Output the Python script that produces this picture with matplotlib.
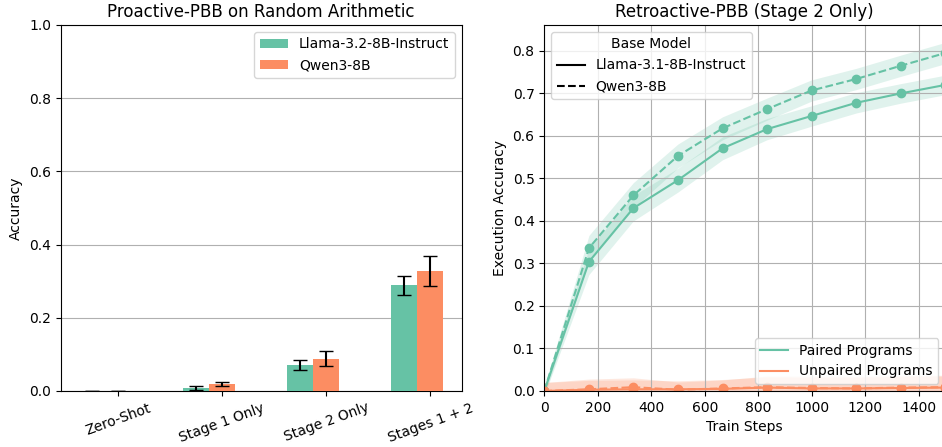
import numpy as np
import matplotlib.pyplot as plt

# left panel data
stages = ['Zero-Shot', 'Stage 1 Only', 'Stage 2 Only', 'Stages 1 + 2']
llama_acc = [0.001, 0.008, 0.070, 0.289]
llama_err = [0.0, 0.005, 0.014, 0.026]
qwen_acc = [0.001, 0.019, 0.088, 0.328]
qwen_err = [0.0, 0.006, 0.020, 0.042]

# right panel data
steps = [0, 167, 333, 500, 667, 833, 1000, 1167, 1333, 1500]
paired_llama = [0.0, 0.304, 0.430, 0.496, 0.571, 0.616, 0.647, 0.678, 0.700, 0.720]
paired_llama_sd = [0.01, 0.03, 0.03, 0.028, 0.027, 0.025, 0.024, 0.024, 0.023, 0.023]
paired_qwen = [0.0, 0.336, 0.460, 0.553, 0.618, 0.663, 0.707, 0.734, 0.765, 0.795]
paired_qwen_sd = [0.01, 0.03, 0.03, 0.028, 0.027, 0.026, 0.025, 0.025, 0.025, 0.025]
unpaired_llama = [0.0, 0.003, 0.004, 0.004, 0.005, 0.008, 0.006, 0.006, 0.007, 0.008]
unpaired_llama_sd = [0.02, 0.022, 0.022, 0.02, 0.022, 0.025, 0.026, 0.026, 0.027, 0.027]
unpaired_qwen = [0.0, 0.004, 0.009, 0.003, 0.006, 0.009, 0.007, 0.006, 0.008, 0.009]
unpaired_qwen_sd = [0.02, 0.024, 0.022, 0.018, 0.02, 0.026, 0.028, 0.028, 0.028, 0.028]

green = '#66c2a5'
orange = '#fc8d62'

fig = plt.figure(figsize=(9.42, 4.47), dpi=100)
ax1 = fig.add_axes([0.0644, 0.1253, 0.4257, 0.8188])
ax2 = fig.add_axes([0.5778, 0.1253, 0.4257, 0.8188])

# --- left: bars
x = np.arange(len(stages))
w = 0.25
ax1.bar(x - w, llama_acc, w, yerr=llama_err, capsize=5, color=green,
        label='Llama-3.2-8B-Instruct', zorder=3)
ax1.bar(x, qwen_acc, w, yerr=qwen_err, capsize=5, color=orange,
        label='Qwen3-8B', zorder=3)
ax1.set_xticks(x)
ax1.set_xticklabels(stages, rotation=20)
ax1.set_ylim(0, 1.0)
ax1.set_ylabel('Accuracy')
ax1.set_title('Proactive-PBB on Random Arithmetic')
ax1.grid(axis='y', zorder=0)
ax1.set_axisbelow(True)
ax1.legend(loc='upper right')

# --- right: curves
series = [
    (paired_llama, paired_llama_sd, green, '-'),
    (paired_qwen, paired_qwen_sd, green, '--'),
    (unpaired_llama, unpaired_llama_sd, orange, '-'),
    (unpaired_qwen, unpaired_qwen_sd, orange, '--'),
]
for m, sd, c, ls in series:
    m = np.array(m)
    sd = np.array(sd)
    ax2.fill_between(steps, m - sd, m + sd, color=c, alpha=0.2, lw=0)
    ax2.plot(steps, m, color=c, ls=ls, marker='o', ms=6, lw=1.5)

ax2.set_xlim(0, 1500)
ax2.set_ylim(0, 0.861)
ax2.set_xticks([0, 200, 400, 600, 800, 1000, 1200, 1400])
ax2.set_xlabel('Train Steps')
ax2.set_ylabel('Execution Accuracy')
ax2.set_title('Retroactive-PBB (Stage 2 Only)')
ax2.grid(True)

from matplotlib.lines import Line2D
h_model = [Line2D([], [], color='black', ls='-'), Line2D([], [], color='black', ls='--')]
leg1 = ax2.legend(h_model, ['Llama-3.1-8B-Instruct', 'Qwen3-8B'],
                  title='Base Model', loc='upper left')
ax2.add_artist(leg1)
h_type = [Line2D([], [], color=green), Line2D([], [], color=orange)]
ax2.legend(h_type, ['Paired Programs', 'Unpaired Programs'], loc='lower right')

plt.savefig('out.png', dpi=100)
